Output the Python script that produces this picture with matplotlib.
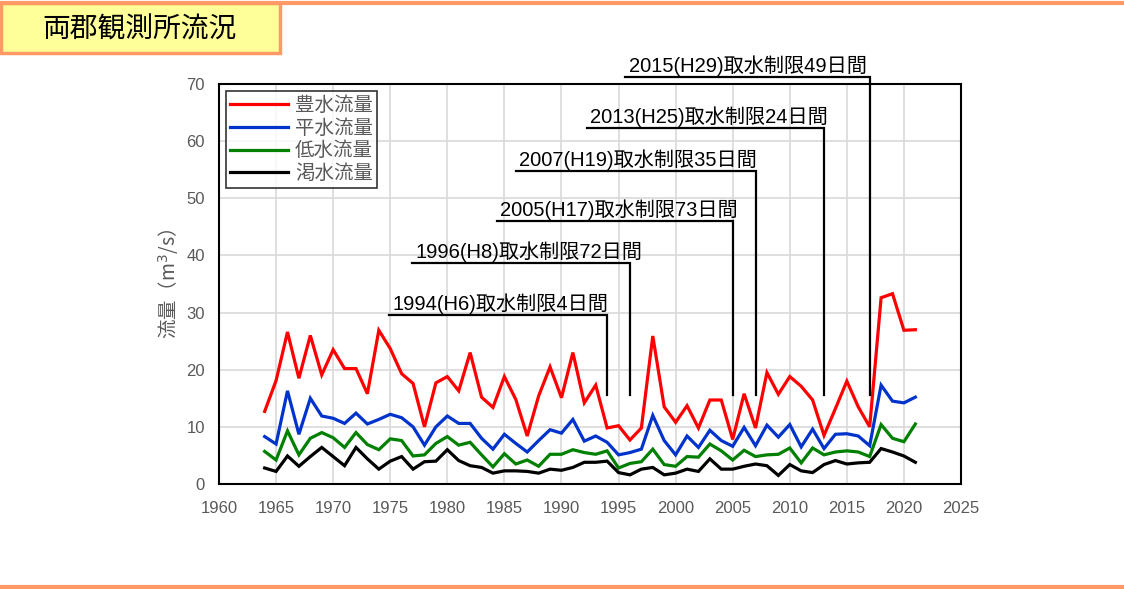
import numpy as np
import matplotlib.pyplot as plt
from matplotlib.patches import Rectangle
from matplotlib.lines import Line2D

plt.rcParams['font.family'] = ['Liberation Sans', 'Noto Sans CJK JP', 'DejaVu Sans']

years = list(range(1964, 2022))

# 豊水流量
hosui = [12.7, 18.1, 26.6, 18.5, 26.0, 19.1, 23.5, 20.2, 20.2, 15.8, 26.9, 23.7,
         19.3, 17.6, 10.0, 17.7, 18.8, 16.3, 23.0, 15.2, 13.4, 18.8, 14.8, 8.4,
         15.4, 20.5, 15.1, 23.0, 14.2, 17.3, 9.8, 10.2, 7.7, 9.8, 25.9, 13.5,
         10.8, 13.7, 9.8, 14.7, 14.7, 7.8, 15.8, 9.8, 19.5, 15.7, 18.8, 17.1,
         14.7, 8.5, 13.2, 18.0, 13.5, 10.0, 32.6, 33.3, 26.9, 27.0]
# 平水流量
heisui = [8.3, 7.0, 16.3, 8.7, 15.0, 11.9, 11.5, 10.6, 12.4, 10.5, 11.3, 12.2,
          11.6, 10.0, 6.8, 10.0, 11.9, 10.6, 10.6, 8.0, 6.1, 8.7, 7.1, 5.6,
          7.6, 9.5, 8.9, 11.3, 7.5, 8.4, 7.3, 5.1, 5.5, 6.1, 12.0, 7.6,
          5.1, 8.4, 6.4, 9.4, 7.6, 6.6, 9.9, 6.7, 10.3, 8.2, 10.4, 6.5,
          9.6, 6.2, 8.7, 8.8, 8.4, 6.7, 17.3, 14.5, 14.2, 15.2]
# 低水流量
teisui = [5.7, 4.2, 9.3, 5.1, 8.0, 9.0, 8.1, 6.4, 9.0, 6.9, 6.0, 7.9,
          7.6, 4.9, 5.1, 7.1, 8.3, 6.8, 7.3, 5.1, 3.0, 5.3, 3.5, 4.2,
          3.1, 5.2, 5.2, 6.0, 5.5, 5.2, 5.8, 2.8, 3.6, 3.9, 6.1, 3.4,
          3.1, 4.8, 4.7, 7.0, 5.8, 4.2, 5.9, 4.8, 5.1, 5.2, 6.3, 3.7,
          6.3, 5.1, 5.6, 5.8, 5.6, 4.8, 10.4, 8.0, 7.4, 10.5]
# 渇水流量
kassui = [2.8, 2.2, 4.9, 3.1, 4.8, 6.4, 4.8, 3.2, 6.4, 4.4, 2.6, 4.0,
          4.8, 2.6, 3.9, 4.0, 6.0, 4.1, 3.2, 2.9, 1.9, 2.3, 2.3, 2.2,
          1.9, 2.6, 2.4, 2.9, 3.8, 3.8, 4.0, 2.0, 1.6, 2.6, 2.9, 1.6,
          1.9, 2.6, 2.2, 4.4, 2.6, 2.6, 3.1, 3.5, 3.2, 1.5, 3.4, 2.3,
          2.0, 3.4, 4.1, 3.5, 3.7, 3.8, 6.2, 5.6, 4.9, 3.8]

series_names = ['豊水流量', '平水流量', '低水流量', '渇水流量']
series_colors = ['#FF0000', '#0033CC', '#008000', '#000000']

event_years = [1994, 1996, 2005, 2007, 2013, 2017]
event_labels = ['1994(H6)取水制限4日間', '1996(H8)取水制限72日間',
                '2005(H17)取水制限73日間', '2007(H19)取水制限35日間',
                '2013(H25)取水制限24日間', '2015(H29)取水制限49日間']

# layout of the callout lines (start x, height)
callout_start = [1974.9, 1976.9, 1984.35, 1986.0, 1992.2, 1995.6]
callout_height = [29.6, 38.7, 46.0, 54.8, 62.3, 71.2]
callout_bottom = 15.6

fig = plt.figure(figsize=(11.24, 5.89), dpi=100)
ax = fig.add_axes([219 / 1124, 105 / 589, 742 / 1124, 400 / 589])

for vals, name, col in zip([hosui, heisui, teisui, kassui], series_names, series_colors):
    ax.plot(years, vals, color=col, lw=2.3, label=name, solid_joinstyle='miter')

ax.set_xlim(1960, 2025)
ax.set_ylim(0, 70)
ax.set_xticks(np.arange(1960, 2026, 5))
ax.set_yticks(np.arange(0, 71, 10))
ax.grid(True, color='#D9D9D9', lw=1.2)
ax.set_axisbelow(True)
ax.tick_params(length=0, labelsize=12, labelcolor='#595959', pad=10)
ax.tick_params(axis='x', pad=12)
for s in ax.spines.values():
    s.set_color('black')
    s.set_linewidth(1.5)

ax.set_ylabel('流量（m$^3$/s）', color='#595959', fontsize=14, labelpad=4,
              family=['Noto Sans CJK JP', 'DejaVu Sans'])

leg = ax.legend(loc='upper left', bbox_to_anchor=(-0.004, 1.006), frameon=True,
                fancybox=False, edgecolor='black', borderpad=0.2,
                handlelength=3.0, labelspacing=0.08, handletextpad=0.35,
                borderaxespad=0.5,
                prop={'family': ['Noto Sans CJK JP'], 'size': 14})
leg.get_frame().set_linewidth(1.2)
for t in leg.get_texts():
    t.set_color('#595959')

for yr, lab, xs, h in zip(event_years, event_labels, callout_start, callout_height):
    ax.plot([xs, yr, yr], [h, h, callout_bottom], color='black', lw=1.6,
            clip_on=False, zorder=5, solid_joinstyle='miter')
    ax.text(xs + 0.3, h + 0.15, lab, fontsize=14.5, color='black',
            ha='left', va='bottom', zorder=6, clip_on=False)

# page frame and title box
fig.add_artist(Line2D([0, 1], [1 - 2.5 / 589, 1 - 2.5 / 589], color='#FF9966', lw=3,
                      transform=fig.transFigure))
fig.add_artist(Line2D([0, 1], [2.5 / 589, 2.5 / 589], color='#FF9966', lw=3,
                      transform=fig.transFigure))
fig.add_artist(Rectangle((0.5 / 1124, 1 - 53 / 589), 279 / 1124, 50 / 589,
                         transform=fig.transFigure, facecolor='#FFFF99',
                         edgecolor='#FF9966', lw=2.5))
fig.text(140 / 1124, 1 - 30 / 589, '両郡観測所流況', fontsize=20, color='black',
         ha='center', va='center', family=['Noto Sans CJK JP'])

fig.savefig('out.png', dpi=100)
